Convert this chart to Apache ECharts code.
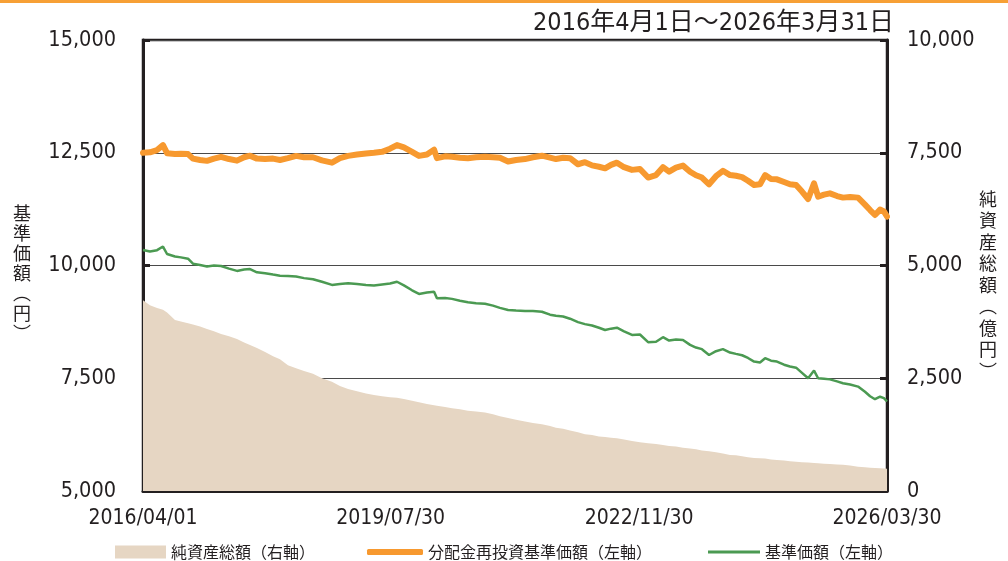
<!DOCTYPE html>
<html>
<head>
<meta charset="utf-8">
<script src="https://cdn.jsdelivr.net/npm/echarts@6/dist/echarts.min.js"></script>
<style>
  html, body { margin: 0; padding: 0; background: #fff; }
  #chart { width: 1008px; height: 561px; }
</style>
</head>
<body>
<div id="chart"></div>
<script>
// 日付（おおよそ月1回のサンプリング）
var dates = [
  "2016-04-01","2016-05-05","2016-06-09","2016-07-08","2016-07-28","2016-09-05","2016-10-04","2016-11-08","2016-12-02",
  "2017-01-06","2017-02-09","2017-03-15","2017-04-19","2017-05-28","2017-07-06","2017-08-10","2017-09-08","2017-10-12","2017-11-21","2017-12-30",
  "2018-02-02","2018-03-13","2018-04-22","2018-05-31","2018-07-14","2018-08-27","2018-10-15","2018-11-23",
  "2019-01-02","2019-02-15","2019-03-31","2019-05-09","2019-06-18","2019-07-27","2019-08-30","2019-10-03","2019-11-12","2019-12-16",
  "2020-01-24","2020-02-28","2020-03-13","2020-04-22","2020-05-26","2020-07-04","2020-08-12","2020-09-21","2020-11-04","2020-12-13",
  "2021-01-16","2021-02-25","2021-04-05","2021-05-19","2021-06-27","2021-08-10","2021-09-19","2021-10-18","2021-11-22","2021-12-26",
  "2022-02-03","2022-03-09","2022-04-13","2022-05-17","2022-06-16","2022-07-15","2022-08-13","2022-09-17","2022-10-26","2022-12-04",
  "2023-01-13","2023-02-21","2023-03-27","2023-04-26","2023-05-30","2023-07-03","2023-08-07","2023-09-05","2023-10-04","2023-11-08","2023-12-12",
  "2024-01-15","2024-02-19","2024-03-19","2024-04-18","2024-05-17","2024-06-16","2024-07-15","2024-08-09","2024-09-07","2024-10-06","2024-11-10","2024-12-09",
  "2025-01-08","2025-02-06","2025-03-08","2025-04-06","2025-04-26","2025-05-25","2025-06-23","2025-07-28","2025-08-26","2025-09-30","2025-11-08","2025-12-12",
  "2026-01-06","2026-01-30","2026-02-24","2026-03-15","2026-03-30"
];

// 分配金再投資基準価額（左軸）
var navReinvest = [
  12500,12510,12560,12670,12490,12470,12480,12470,12370,
  12340,12320,12370,12410,12360,12325,12400,12435,12370,12360,12370,
  12340,12380,12430,12400,12400,12330,12280,12380,
  12430,12460,12485,12500,12520,12590,12670,12620,12520,12430,
  12460,12570,12380,12420,12410,12390,12380,12400,12410,12400,
  12390,12305,12340,12360,12400,12435,12390,12360,12390,12380,
  12245,12290,12220,12190,12155,12230,12280,12180,12120,12140,
  11950,12005,12180,12080,12170,12215,12080,12000,11950,11800,11980,
  12100,12005,11990,11960,11880,11785,11800,12005,11920,11910,11850,11800,
  11785,11640,11475,11820,11525,11570,11600,11540,11505,11520,11505,11350,
  11230,11120,11240,11200,11085
];

// 基準価額（左軸）
var nav = [
  10345,10310,10340,10420,10255,10200,10180,10150,10040,
  10010,9980,10000,9990,9930,9880,9910,9920,9850,9830,9800,
  9775,9765,9755,9720,9695,9640,9570,9590,
  9605,9590,9570,9555,9580,9600,9640,9560,9450,9370,
  9400,9420,9275,9280,9260,9220,9185,9165,9150,9110,
  9060,9015,9000,8990,8990,8975,8910,8885,8870,8820,
  8745,8700,8670,8620,8570,8600,8620,8540,8460,8470,
  8300,8310,8410,8335,8360,8350,8240,8180,8145,8015,8100,
  8145,8070,8040,8010,7950,7870,7850,7945,7890,7870,7800,7760,
  7735,7620,7500,7670,7500,7490,7475,7430,7390,7360,7315,7200,
  7100,7035,7090,7060,6985
];

// 純資産総額（右軸・億円）
var totalAssets = [
  4230,4120,4060,4020,3960,3790,3760,3720,3690,
  3650,3590,3540,3480,3430,3370,3290,3237,3170,3080,2990,
  2920,2790,2720,2660,2600,2500,2420,2330,
  2260,2210,2160,2130,2100,2080,2070,2040,2000,1970,
  1930,1900,1890,1860,1833,1810,1780,1765,1740,1700,
  1660,1620,1580,1540,1510,1480,1440,1400,1380,1340,
  1300,1257,1240,1210,1195,1180,1170,1140,1110,1080,
  1060,1040,1020,1000,985,960,940,925,900,880,860,
  830,800,790,770,750,730,725,720,700,690,675,660,
  650,640,630,620,615,605,599,590,580,565,540,525,
  515,510,505,500,495
];

var xLabelDates = ["2016-04-01","2019-07-30","2022-11-30","2026-03-30"];

var NUM_FONT = "'Liberation Sans Narrow','DejaVu Sans Condensed','Noto Sans',sans-serif";
var JP_FONT = "'Noto Sans CJK JP',sans-serif";
var INK = "#231f20";

function toTime(s) {
  var p = s.split("-");
  return new Date(+p[0], +p[1] - 1, +p[2]).getTime();
}
function zip(vals) {
  return dates.map(function(d, i) { return [toTime(d), vals[i]]; });
}
function comma(v) {
  return String(v).replace(/\B(?=(\d{3})+(?!\d))/g, ",");
}
function pad(n) { return n < 10 ? "0" + n : "" + n; }
function fmtDate(v) {
  var d = new Date(v);
  return d.getFullYear() + "/" + pad(d.getMonth() + 1) + "/" + pad(d.getDate());
}
var xTicks = xLabelDates.map(toTime);

var chart = echarts.init(document.getElementById("chart"), null, { renderer: "canvas" });

var option = {
  animation: false,
  backgroundColor: "#fff",
  title: {
    text: "2016年4月1日～2026年3月31日",
    right: 109,
    top: 6,
    textStyle: { fontFamily: NUM_FONT + "," + JP_FONT, fontSize: 25, fontWeight: "normal", color: INK }
  },
  grid: {
    left: 143, right: 121, top: 40, bottom: 70,
    show: true, borderColor: INK, borderWidth: 2.5, backgroundColor: "transparent"
  },
  legend: [
    {
      data: ["純資産総額（右軸）"],
      left: 110, top: 539,
      icon: "rect",
      itemWidth: 51, itemHeight: 13,
      textStyle: { fontFamily: JP_FONT, fontSize: 16, color: INK }
    },
    {
      data: ["分配金再投資基準価額（左軸）"],
      left: 362, top: 539,
      icon: "roundRect",
      itemWidth: 56, itemHeight: 6,
      textStyle: { fontFamily: JP_FONT, fontSize: 16, color: INK }
    },
    {
      data: ["基準価額（左軸）"],
      left: 703, top: 539,
      icon: "rect",
      itemWidth: 52, itemHeight: 3,
      textStyle: { fontFamily: JP_FONT, fontSize: 16, color: INK }
    }
  ],
  xAxis: {
    type: "value",
    min: xTicks[0],
    max: xTicks[3],
    axisLine: { lineStyle: { color: INK, width: 3 } },
    axisTick: { show: true, inside: true, length: 7, customValues: xTicks, lineStyle: { color: INK, width: 2 } },
    axisLabel: {
      customValues: xTicks,
      margin: 17,
      fontFamily: NUM_FONT, fontSize: 21, color: INK,
      formatter: fmtDate
    },
    splitLine: { show: false }
  },
  yAxis: [
    {
      type: "value",
      min: 5000, max: 15000, interval: 2500,
      axisLine: { show: true, lineStyle: { color: INK, width: 3 } },
      axisTick: { show: true, inside: true, length: 7, lineStyle: { color: INK, width: 3 } },
      axisLabel: { margin: 27, fontFamily: NUM_FONT, fontSize: 21.5, color: INK, formatter: comma },
      splitLine: { show: true, lineStyle: { color: "#4a4a4a", width: 1.2 } }
    },
    {
      type: "value",
      min: 0, max: 10000, interval: 2500,
      axisLine: { show: true, lineStyle: { color: INK, width: 3 } },
      axisTick: { show: true, inside: true, length: 7, lineStyle: { color: INK, width: 3 } },
      axisLabel: { margin: 20, fontFamily: NUM_FONT, fontSize: 21.5, color: INK, formatter: comma },
      splitLine: { show: false }
    }
  ],
  graphic: [
    { type: "rect", left: 0, top: 0, shape: { width: 1008, height: 3 }, style: { fill: "#f7a035" } },
    {
      type: "text", left: 13, top: 203,
      style: { text: "基\n準\n価\n額\n︵\n円\n︶", font: "18px " + JP_FONT, lineHeight: 20, fill: INK, textAlign: "center" }
    },
    {
      type: "text", left: 979, top: 188,
      style: { text: "純\n資\n産\n総\n額\n︵\n億\n円\n︶", font: "18px " + JP_FONT, lineHeight: 21.5, fill: INK, textAlign: "center" }
    }
  ],
  series: [
    {
      name: "純資産総額（右軸）",
      type: "line",
      yAxisIndex: 1,
      symbol: "none",
      data: zip(totalAssets),
      lineStyle: { width: 0 },
      itemStyle: { color: "#e6d6c3" },
      areaStyle: { color: "#e6d6c3", opacity: 1 },
      z: 1
    },
    {
      name: "基準価額（左軸）",
      type: "line",
      symbol: "none",
      data: zip(nav),
      lineStyle: { color: "#4b9a52", width: 2.5 },
      itemStyle: { color: "#4b9a52" },
      z: 3
    },
    {
      name: "分配金再投資基準価額（左軸）",
      type: "line",
      symbol: "none",
      data: zip(navReinvest),
      lineStyle: { color: "#f7992f", width: 6, cap: "round", join: "round" },
      itemStyle: { color: "#f7992f" },
      z: 4
    }
  ]
};

chart.setOption(option);
</script>
</body>
</html>
